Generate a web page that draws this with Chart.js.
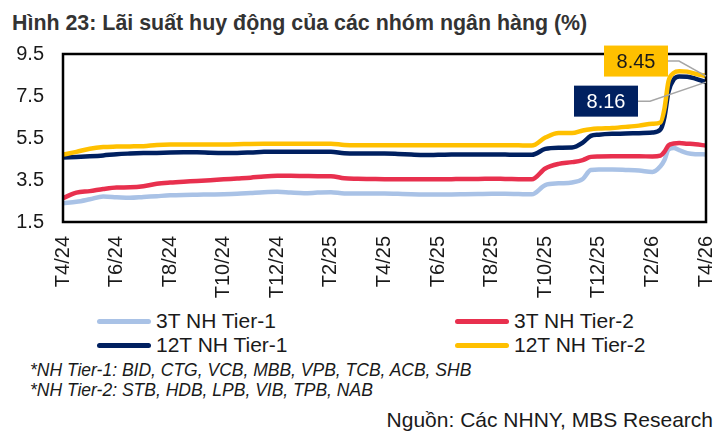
<!DOCTYPE html>
<html lang="vi">
<head>
    <meta charset="UTF-8">
    <meta name="viewport" content="width=device-width, initial-scale=1.0">
    <title>Hình 23 - Lãi suất huy động</title>
    <script src="https://cdn.jsdelivr.net/npm/chart.js"></script>
    <style>
        body {
            margin: 0;
            background: #fff;
            font-family: "Liberation Sans", Arial, sans-serif;
            color: #1a1a1a;
        }
        .page {
            position: relative;
            width: 727px;
            height: 432px;
            overflow: hidden;
        }
        .title {
            position: absolute;
            left: 12px;
            top: 13px;
            font-size: 21.4px;
            line-height: 21px;
            font-weight: bold;
            color: #333;
            white-space: nowrap;
        }
        .chart-box {
            position: absolute;
            left: 0;
            top: 0;
            width: 727px;
            height: 305px;
        }
        .legend-item {
            position: absolute;
            display: flex;
            align-items: center;
            height: 24px;
            font-size: 21px;
            white-space: nowrap;
        }
        .swatch {
            width: 54px;
            height: 5px;
            border-radius: 3px;
            margin-right: 5px;
        }
        .note {
            position: absolute;
            left: 30px;
            font-size: 17.5px;
            line-height: 20px;
            font-style: italic;
            white-space: nowrap;
        }
        .source {
            position: absolute;
            right: 14px;
            top: 408px;
            font-size: 21px;
            line-height: 24px;
            white-space: nowrap;
        }
    </style>
</head>
<body>
    <div class="page">
        <div class="title">Hình 23: Lãi suất huy động của các nhóm ngân hàng (%)</div>
        <div class="chart-box">
            <canvas id="rateChart" width="727" height="305"></canvas>
        </div>
        <div id="legend"></div>
        <div class="note" style="top: 360px;">*NH Tier-1: BID, CTG, VCB, MBB, VPB, TCB, ACB, SHB</div>
        <div class="note" style="top: 380px;">*NH Tier-2: STB, HDB, LPB, VIB, TPB, NAB</div>
        <div class="source">Nguồn: Các NHNY, MBS Research</div>
    </div>

    <script>
        // months counted from T4/24
        const months = [
            0, 0.5, 1, 1.5, 2, 2.5, 3, 3.5, 4, 4.5,
            5, 5.5, 6, 6.5, 7, 7.5, 8, 8.5, 9, 9.5,
            10, 10.5, 11, 11.5, 12, 12.5, 13, 13.5, 14, 14.5,
            15, 15.5, 16, 16.5, 17, 17.5, 18, 18.5, 19, 19.4,
            19.7, 20, 20.5, 21, 21.5, 22, 22.3, 22.45, 22.6, 22.8,
            23, 23.3, 23.6, 24
        ];
        const xTickLabels = ['T4/24', 'T6/24', 'T8/24', 'T10/24', 'T12/24', 'T2/25', 'T4/25',
            'T6/25', 'T8/25', 'T10/25', 'T12/25', 'T2/26', 'T4/26'];
        const yTickLabels = ['1.5', '3.5', '5.5', '7.5', '9.5'];

        const seriesNames = ['3T NH Tier-1', '3T NH Tier-2', '12T NH Tier-1', '12T NH Tier-2'];
        const seriesColors = ['#a9c2e6', '#e8304e', '#002060', '#ffc000'];

        const tier1_3m = [
            2.39, 2.46, 2.58, 2.71, 2.68, 2.65, 2.69, 2.73, 2.77, 2.79,
            2.80, 2.81, 2.82, 2.84, 2.88, 2.92, 2.94, 2.90, 2.87, 2.90,
            2.92, 2.86, 2.86, 2.86, 2.86, 2.84, 2.82, 2.81, 2.81, 2.81,
            2.82, 2.83, 2.84, 2.84, 2.83, 2.82, 3.26, 3.34, 3.38, 3.55,
            3.98, 4.00, 4.00, 3.98, 3.95, 3.88, 4.15, 4.45, 4.95, 5.02,
            4.92, 4.78, 4.73, 4.72
        ];
        const tier2_3m = [
            2.64, 2.90, 2.97, 3.07, 3.14, 3.15, 3.20, 3.32, 3.38, 3.42,
            3.45, 3.49, 3.53, 3.57, 3.61, 3.67, 3.70, 3.70, 3.69, 3.68,
            3.68, 3.58, 3.56, 3.55, 3.54, 3.54, 3.53, 3.53, 3.53, 3.54,
            3.55, 3.55, 3.56, 3.55, 3.54, 3.53, 4.05, 4.27, 4.35, 4.45,
            4.60, 4.62, 4.63, 4.63, 4.63, 4.62, 4.66, 4.85, 5.15, 5.24,
            5.26, 5.23, 5.20, 5.14
        ];
        const tier1_12m = [
            4.57, 4.60, 4.63, 4.67, 4.73, 4.76, 4.78, 4.79, 4.81, 4.82,
            4.82, 4.80, 4.79, 4.79, 4.81, 4.84, 4.85, 4.85, 4.85, 4.85,
            4.85, 4.77, 4.76, 4.76, 4.76, 4.74, 4.71, 4.69, 4.70, 4.71,
            4.72, 4.72, 4.72, 4.71, 4.70, 4.70, 4.98, 5.04, 5.05, 5.28,
            5.60, 5.66, 5.70, 5.71, 5.73, 5.76, 5.90, 6.50, 7.70, 8.30,
            8.43, 8.42, 8.33, 8.16
        ];
        const tier2_12m = [
            4.71, 4.84, 4.99, 5.07, 5.09, 5.10, 5.11, 5.17, 5.19, 5.19,
            5.19, 5.19, 5.19, 5.20, 5.22, 5.23, 5.23, 5.23, 5.23, 5.23,
            5.23, 5.17, 5.16, 5.16, 5.16, 5.16, 5.16, 5.16, 5.16, 5.16,
            5.16, 5.16, 5.16, 5.16, 5.15, 5.14, 5.52, 5.74, 5.74, 5.86,
            5.92, 5.95, 5.98, 6.03, 6.09, 6.18, 6.24, 6.90, 8.20, 8.60,
            8.68, 8.66, 8.56, 8.45
        ];
        const seriesData = [tier1_3m, tier2_3m, tier1_12m, tier2_12m];

        const baseFont = '"Liberation Sans", Arial, sans-serif';

        // boxed value labels at the end of the 12T series
        const endLabels = [
            { series: 3, bg: '#ffc000', fg: '#1a1a1a', dx: -102, dy: -15, elbow: 11 },
            { series: 2, bg: '#002060', fg: '#ffffff', dx: -132, dy: 19, elbow: 12 }
        ];

        const framePlugin = {
            id: 'frame',
            afterDatasetsDraw(chart) {
                const { ctx, chartArea: a } = chart;
                ctx.save();
                ctx.strokeStyle = '#000';
                ctx.lineWidth = 2.5;
                ctx.strokeRect(a.left, a.top, a.right - a.left, a.bottom - a.top);
                ctx.restore();
            }
        };

        const endLabelPlugin = {
            id: 'endLabels',
            afterDatasetsDraw(chart) {
                const ctx = chart.ctx;
                const xs = chart.scales.x, ys = chart.scales.y;
                const boxW = 64, boxH = 31;
                ctx.save();
                endLabels.forEach(l => {
                    const vals = seriesData[l.series];
                    const last = vals[vals.length - 1];
                    const px = xs.getPixelForValue(months[months.length - 1]);
                    const py = ys.getPixelForValue(last);
                    const bx = px + l.dx, by = py + l.dy - boxH / 2;
                    // leader
                    ctx.strokeStyle = '#a6a6a6';
                    ctx.lineWidth = 1.5;
                    ctx.beginPath();
                    ctx.moveTo(bx + boxW, py + l.dy);
                    ctx.lineTo(bx + boxW + l.elbow, py + l.dy);
                    ctx.lineTo(px, py);
                    ctx.stroke();
                    // box
                    ctx.fillStyle = l.bg;
                    ctx.fillRect(bx, by, boxW, boxH);
                    ctx.fillStyle = l.fg;
                    ctx.font = '20px ' + baseFont;
                    ctx.textAlign = 'center';
                    ctx.textBaseline = 'middle';
                    ctx.fillText(last.toFixed(2), bx + boxW / 2, py + l.dy + 1);
                });
                ctx.restore();
            }
        };

        function buildLegend() {
            const holder = document.getElementById('legend');
            const cols = [97, 455];
            const rows = [321, 345];
            seriesNames.forEach((name, i) => {
                const item = document.createElement('div');
                item.className = 'legend-item';
                item.style.left = cols[i % 2] + 'px';
                item.style.top = (rows[Math.floor(i / 2)] - 12) + 'px';
                item.innerHTML = '<span class="swatch" style="background:' + seriesColors[i] + '"></span>' + name;
                holder.appendChild(item);
            });
        }

        function createChart() {
            const ctx = document.getElementById('rateChart').getContext('2d');
            new Chart(ctx, {
                type: 'line',
                data: {
                    datasets: seriesNames.map((name, i) => ({
                        label: name,
                        data: seriesData[i].map((v, j) => ({ x: months[j], y: v })),
                        borderColor: seriesColors[i],
                        borderWidth: 4.5,
                        pointRadius: 0,
                        cubicInterpolationMode: 'monotone',
                        order: seriesNames.length - i
                    }))
                },
                options: {
                    responsive: false,
                    animation: false,
                    layout: { padding: { top: 54, left: 0, right: 21, bottom: 0 } },
                    plugins: {
                        legend: { display: false },
                        tooltip: { enabled: false }
                    },
                    scales: {
                        x: {
                            type: 'linear',
                            min: 0,
                            max: 24,
                            grid: { display: false, drawTicks: false },
                            border: { display: false },
                            afterFit: s => {
                                s.height = 83;
                                s.paddingLeft = 0;
                                s.paddingRight = 0;
                            },
                            ticks: {
                                stepSize: 2,
                                autoSkip: false,
                                maxRotation: 90,
                                minRotation: 90,
                                padding: 14,
                                color: '#1a1a1a',
                                font: { family: baseFont, size: 20 },
                                callback: v => xTickLabels[v / 2]
                            }
                        },
                        y: {
                            min: 1.5,
                            max: 9.5,
                            grid: { display: false, drawTicks: false },
                            border: { display: false },
                            afterFit: s => {
                                s.width = 63;
                                s.paddingTop = 0;
                                s.paddingBottom = 0;
                            },
                            ticks: {
                                stepSize: 2,
                                padding: 19,
                                color: '#1a1a1a',
                                font: { family: baseFont, size: 20 },
                                callback: (v, i) => yTickLabels[i]
                            }
                        }
                    }
                },
                plugins: [framePlugin, endLabelPlugin]
            });
        }

        document.addEventListener('DOMContentLoaded', () => {
            buildLegend();
            createChart();
        });
    </script>
</body>
</html>
